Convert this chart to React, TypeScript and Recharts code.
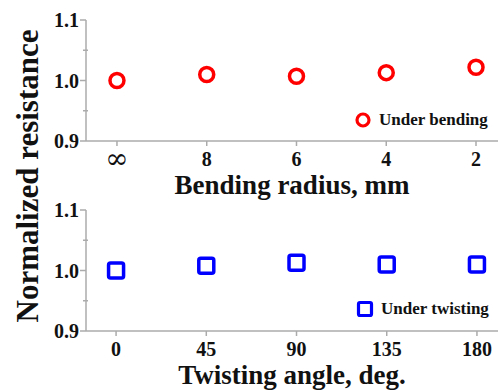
import { ScatterChart, Scatter, XAxis, YAxis, Legend } from 'recharts'

const bendLabels = ['∞', '8', '6', '4', '2']
const bendValues = [1.0, 1.01, 1.007, 1.013, 1.022]
const twistAngles = [0, 45, 90, 135, 180]
const twistValues = [1.0, 1.008, 1.013, 1.01, 1.01]
const yTicks = [0.9, 0.95, 1.0, 1.05, 1.1]

const bendData = bendValues.map((v, i) => ({ x: i, y: v }))
const twistData = twistValues.map((v, i) => ({ x: twistAngles[i], y: v }))

const FONT = '"Liberation Serif", "Times New Roman", serif'
const AXIS = '#ababab'

const YTick = (props: any) => {
  const { x, y, payload } = props
  const r = Math.round(payload.value * 100) % 10
  const major = r === 0
  const ax = x + 8
  return (
    <g>
      <line x1={major ? ax - 6 : ax - 3} x2={major ? ax : ax + 2} y1={y} y2={y} stroke={AXIS} strokeWidth={1.5} />
      {major && (
        <text x={ax - 7} y={y} dy={7} textAnchor="end" fontFamily={FONT} fontWeight="bold" fontSize={20} fill="#111">
          {payload.value.toFixed(1)}
        </text>
      )}
    </g>
  )
}

const BendTick = (props: any) => {
  const { x, y, payload } = props
  const label = bendLabels[payload.value]
  const inf = label === '∞'
  return (
    <text x={x} y={y} dy={inf ? 20 : 18} textAnchor="middle" fontFamily={inf ? '"DejaVu Serif", serif' : FONT}
      fontWeight={inf ? 'normal' : 'bold'} fontSize={inf ? 28 : 20} fill="#111">
      {label}
    </text>
  )
}

const Circle = (props: any) => (
  <circle cx={props.cx} cy={props.cy} r={7} fill="none" stroke="#ff0000" strokeWidth={3.5} />
)
const Square = (props: any) => (
  <rect x={props.cx - 7.5} y={props.cy - 7.5} width={15} height={15} rx={2} fill="none" stroke="#0000ff" strokeWidth={3.5} />
)

const LegendItem = ({ kind, text }: { kind: 'circle' | 'square'; text: string }) => (
  <div style={{ display: 'flex', alignItems: 'center', fontFamily: FONT, fontWeight: 'bold', fontSize: 17, color: '#111' }}>
    <svg width={20} height={20} style={{ marginRight: 6 }}>
      {kind === 'circle'
        ? <circle cx={10} cy={10} r={6} fill="none" stroke="#ff0000" strokeWidth={3.2} />
        : <rect x={3.5} y={3.5} width={13} height={13} rx={1.5} fill="none" stroke="#0000ff" strokeWidth={3.2} />}
    </svg>
    {text}
  </div>
)

export default function App() {
  return (
    <div style={{ position: 'absolute', left: 0, top: 0, width: 498, height: 390, background: '#fff', overflow: 'hidden' }}>
      <div style={{ position: 'absolute', left: 0, top: 0 }}>
        <ScatterChart width={498} height={200} margin={{ top: 20, right: 0, bottom: 0, left: 0 }}>
          <XAxis
            type="number" dataKey="x" domain={[-0.345, 4.245]} ticks={[0, 1, 2, 3, 4]}
            stroke={AXIS} strokeWidth={1.5} tickSize={5} height={59}
            tick={<BendTick />}
            label={{ value: 'Bending radius, mm', position: 'insideBottom', offset: 6, fontFamily: FONT, fontWeight: 'bold', fontSize: 27, fill: '#111' }}
          />
          <YAxis
            type="number" dataKey="y" domain={[0.9, 1.1]} ticks={yTicks} width={86}
            stroke={AXIS} strokeWidth={1.5} tickLine={false} tick={<YTick />} interval={0}
          />
          <XAxis xAxisId="top" orientation="top" type="number" dataKey="x" domain={[-0.345, 4.245]} ticks={[]} stroke={AXIS} strokeWidth={1.5} height={0} />
          <Scatter data={bendData} shape={<Circle />} isAnimationActive={false} name="Under bending" />
          <Legend
            layout="horizontal" verticalAlign="middle" align="center"
            wrapperStyle={{ left: 353, top: 110, width: 150 }}
            content={() => <LegendItem kind="circle" text="Under bending" />}
          />
        </ScatterChart>
      </div>
      <div style={{ position: 'absolute', left: 0, top: 190 }}>
        <ScatterChart width={498} height={200} margin={{ top: 20, right: 0, bottom: 0, left: 0 }}>
          <XAxis
            type="number" dataKey="x" domain={[-15, 190.5]} ticks={twistAngles}
            stroke={AXIS} strokeWidth={1.5} tickSize={5} height={59}
            tick={{ fontFamily: FONT, fontWeight: 'bold', fontSize: 20, fill: '#111', dy: 4 }}
            label={{ value: 'Twisting angle, deg.', position: 'insideBottom', offset: 6, fontFamily: FONT, fontWeight: 'bold', fontSize: 27, fill: '#111' }}
          />
          <YAxis
            type="number" dataKey="y" domain={[0.9, 1.1]} ticks={yTicks} width={86}
            stroke={AXIS} strokeWidth={1.5} tickLine={false} tick={<YTick />} interval={0}
          />
          <XAxis xAxisId="top" orientation="top" type="number" dataKey="x" domain={[-15, 190.5]} ticks={[]} stroke={AXIS} strokeWidth={1.5} height={0} />
          <Scatter data={twistData} shape={<Square />} isAnimationActive={false} name="Under twisting" />
          <Legend
            layout="horizontal" verticalAlign="middle" align="center"
            wrapperStyle={{ left: 355, top: 109, width: 150 }}
            content={() => <LegendItem kind="square" text="Under twisting" />}
          />
        </ScatterChart>
      </div>
      <div style={{
        position: 'absolute', left: 28, top: 176, transform: 'translate(-50%, -50%) rotate(-90deg)',
        whiteSpace: 'nowrap', fontFamily: FONT, fontWeight: 'bold', fontSize: 31, color: '#111',
      }}>
        Normalized resistance
      </div>
    </div>
  )
}
